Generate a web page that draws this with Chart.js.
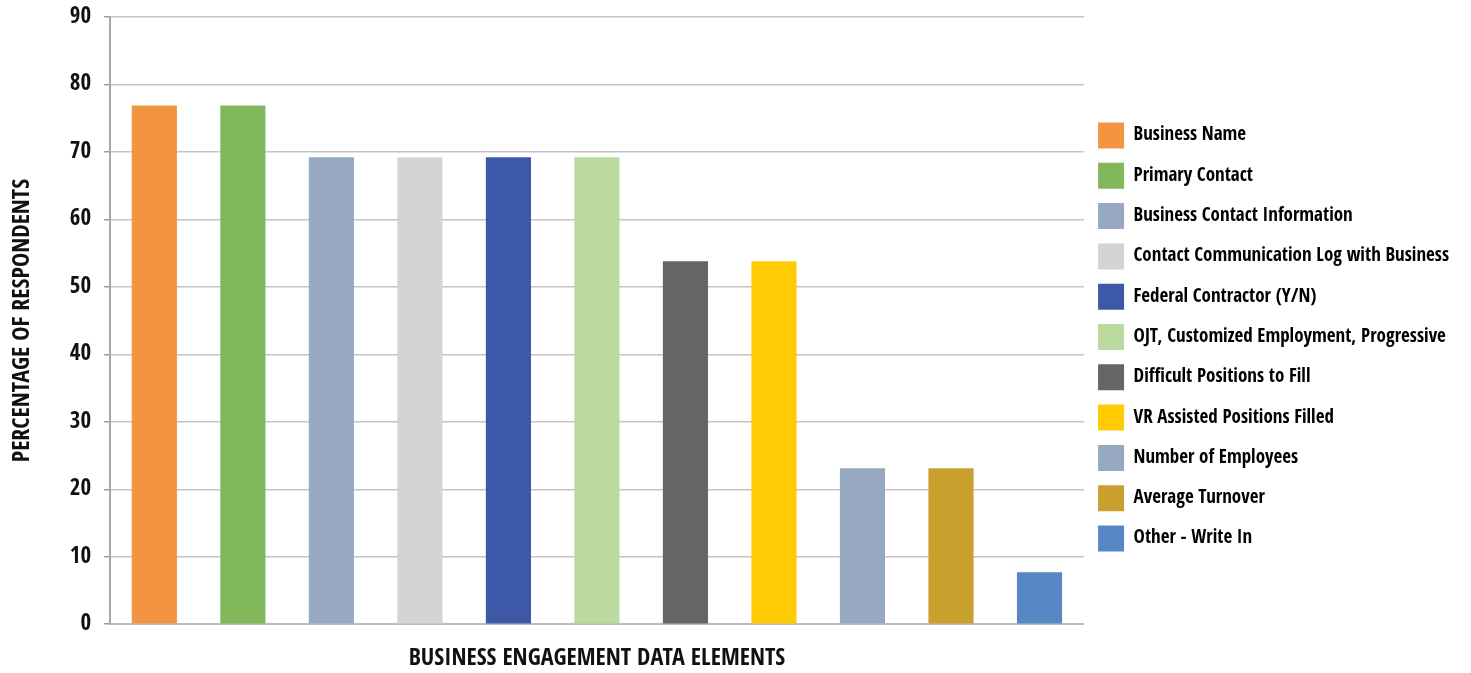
<!DOCTYPE html>
<html>
<head>
<meta charset="utf-8">
<script src="https://cdn.jsdelivr.net/npm/chart.js@4"></script>
<style>
  html, body { margin: 0; padding: 0; background: #fff; }
  #wrap { width: 1471px; height: 673px; }
</style>
</head>
<body>
<div id="wrap"><canvas id="canvas"></canvas></div>
<script>
const categories = ['Business Name', 'Primary Contact', 'Business Contact Information',
  'Contact Communication Log with Business', 'Federal Contractor (Y/N)',
  'OJT, Customized Employment, Progressive', 'Difficult Positions to Fill',
  'VR Assisted Positions Filled', 'Number of Employees', 'Average Turnover', 'Other - Write In'];
const percentages = [76.9, 76.9, 69.2, 69.2, 69.2, 69.2, 53.8, 53.8, 23.1, 23.1, 7.7];
const barColors = ['#f39443', '#82b85c', '#97a9c0', '#d4d4d4', '#3e58a8', '#bbdaa0',
  '#646665', '#ffcb05', '#97a9c0', '#c9a02d', '#5887c6'];
const yTicks = [0, 10, 20, 30, 40, 50, 60, 70, 80, 90];

const FONT = "'Open Sans Condensed', 'Roboto Condensed', sans-serif";

// chart.js caps a side legend at a quarter of the width here, the labels need more room
// and the list sits a bit higher than the default centring
const legendFit = {
  id: 'legendFit',
  beforeLayout(chart) {
    const lg = chart.legend;
    if (!lg || lg._wide) return;
    const baseUpdate = lg.update;
    lg.update = function (maxWidth, maxHeight, margins) {
      return baseUpdate.call(this, Math.max(maxWidth, 420), maxHeight, margins);
    };
    lg._wide = true;
  },
  afterLayout(chart) {
    const lg = chart.legend;
    if (!lg) return;
    lg.top -= 8;
    lg.bottom -= 8;
  }
};

function createChart() {
  const data = {
    labels: categories,
    datasets: [{
      label: 'Percentage',
      data: percentages,
      backgroundColor: barColors,
      borderWidth: 0,
      barPercentage: 0.51,
      categoryPercentage: 1.0
    }]
  };
  const config = {
    type: 'bar',
    data: data,
    plugins: [legendFit],
    options: {
      responsive: true,
      maintainAspectRatio: false,
      animation: false,
      layout: { padding: { top: 17, left: 8, right: 12, bottom: 0 } },
      plugins: {
        tooltip: { enabled: false },
        legend: {
          position: 'right',
          labels: {
            color: '#111',
            font: { family: FONT, size: 19, weight: 'bold' },
            boxWidth: 26,
            boxHeight: 26,
            padding: 14.3,
            generateLabels: function (chart) {
              return categories.map(function (c, i) {
                return {
                  text: c,
                  fillStyle: barColors[i],
                  strokeStyle: barColors[i],
                  lineWidth: 0,
                  hidden: false,
                  index: i
                };
              });
            }
          }
        }
      },
      scales: {
        x: {
          ticks: { display: false },
          grid: { display: false },
          border: { display: true, color: '#bdbdbd', width: 2 },
          title: {
            display: true,
            text: 'BUSINESS ENGAGEMENT DATA ELEMENTS',
            color: '#111',
            font: { family: FONT, size: 24, weight: 'bold' },
            padding: { top: 12, bottom: 0 }
          }
        },
        y: {
          min: 0,
          max: 90,
          afterBuildTicks: function (axis) {
            axis.ticks = yTicks.map(v => ({ value: v }));
          },
          // the top gap is set by layout.padding, not by the label height
          afterFit: function (scale) {
            scale.paddingTop = 0;
          },
          ticks: {
            color: '#111',
            padding: 13,
            font: { family: FONT, size: 23, weight: 'bold' }
          },
          grid: { color: '#c4c4c4', lineWidth: 1.5, tickLength: 6, tickColor: '#9a9a9a' },
          border: { display: true, color: '#a8a8a8', width: 2 },
          title: {
            display: true,
            text: 'PERCENTAGE OF RESPONDENTS',
            color: '#111',
            font: { family: FONT, size: 24, weight: 'bold' },
            padding: { top: 0, bottom: 20 }
          }
        }
      }
    }
  };
  const canvas = document.getElementById('canvas');
  new Chart(canvas, config);
}
window.onload = function () {
  createChart();
};
</script>
</body>
</html>
